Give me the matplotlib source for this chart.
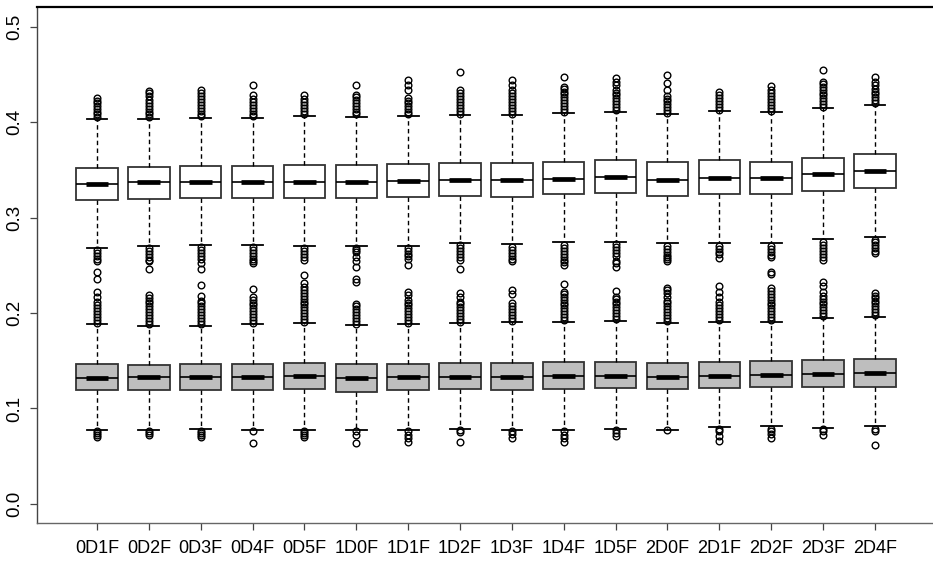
import matplotlib
matplotlib.use('Agg')
import matplotlib.pyplot as plt
import numpy as np

plt.rcParams['font.family'] = ['Liberation Sans', 'DejaVu Sans']

labels = ['0D1F', '0D2F', '0D3F', '0D4F', '0D5F', '1D0F', '1D1F', '1D2F',
          '1D3F', '1D4F', '1D5F', '2D0F', '2D1F', '2D2F', '2D3F', '2D4F']

# upper (white) boxes
w_q1 = [.3183, .3194, .3201, .3201, .3201, .3201, .3212, .3228,
        .3218, .3243, .3253, .3228, .3243, .3243, .3277, .3306]
w_med = [.3354, .3369, .3369, .3372, .3375, .3369, .3385, .3393,
         .3393, .3403, .3421, .3393, .3417, .3411, .3455, .3487]
w_q3 = [.3515, .3532, .3542, .3542, .3550, .3550, .3560, .3568,
        .3568, .3578, .3599, .3578, .3599, .3584, .3626, .3662]
w_lo = [.2684, .2702, .2712, .2712, .2702, .2702, .2702, .2736,
        .2719, .2740, .2747, .2730, .2730, .2730, .2772, .2793]
w_hi = [.4031, .4028, .4039, .4039, .4066, .4055, .4063, .4073,
        .4073, .4091, .4108, .4081, .4115, .4102, .4143, .4178]
# outliers, in thousandths
w_fl_hi = [
    [405, 408, 411, 414, 417, 420, 422, 425],
    [405, 408, 411, 414, 417, 420, 423, 427, 430, 433],
    [406, 409, 412, 415, 418, 421, 424, 427, 430, 434],
    [406, 409, 412, 415, 418, 421, 424, 428, 439],
    [409, 412, 415, 418, 421, 424, 428],
    [408, 411, 414, 417, 420, 423, 426, 428, 439],
    [408, 411, 414, 417, 420, 422, 425, 434, 439, 444],
    [409, 412, 415, 418, 421, 424, 427, 430, 434, 453],
    [409, 412, 415, 418, 421, 424, 427, 430, 434, 439, 444],
    [411, 414, 417, 420, 423, 426, 429, 432, 435, 437, 447],
    [413, 416, 419, 422, 425, 428, 431, 434, 439, 442, 446],
    [410, 413, 416, 419, 422, 424, 427, 434, 441, 449],
    [413, 416, 419, 422, 425, 428, 432],
    [412, 415, 418, 421, 424, 427, 430, 434, 438],
    [416, 419, 422, 425, 428, 431, 434, 437, 440, 442, 455],
    [420, 423, 426, 429, 432, 435, 439, 442, 447],
]
w_fl_lo = [
    [266, 263, 260, 257, 254, 243, 236],
    [268, 265, 262, 259, 256, 254, 246],
    [269, 266, 263, 260, 257, 252, 246],
    [269, 266, 263, 260, 257, 255, 252],
    [268, 265, 262, 259, 256],
    [268, 266, 264, 259, 254, 248, 236, 232],
    [268, 265, 262, 260, 257, 250],
    [271, 268, 265, 262, 259, 256, 246],
    [269, 266, 263, 260, 257, 255],
    [271, 268, 265, 262, 259, 256, 253, 250],
    [272, 269, 266, 263, 260, 255, 252, 248],
    [270, 267, 264, 261, 259, 257, 254],
    [270, 267, 264, 262, 258],
    [270, 267, 264, 261, 259],
    [274, 271, 268, 265, 262, 259, 256],
    [277, 274, 271, 268, 265, 263],
]

# lower (grey) boxes
g_q1 = [.1194, .1194, .1194, .1194, .1201, .1176, .1191, .1201,
        .1191, .1201, .1212, .1201, .1212, .1222, .1222, .1228]
g_med = [.1323, .1327, .1327, .1327, .1337, .1323, .1330, .1333,
         .1333, .1337, .1343, .1333, .1343, .1351, .1361, .1372]
g_q3 = [.1469, .1459, .1469, .1469, .1480, .1469, .1469, .1480,
        .1480, .1490, .1490, .1480, .1490, .1501, .1508, .1518]
g_lo = [.0775, .0775, .0785, .0775, .0775, .0775, .0775, .0785,
        .0775, .0775, .0785, .0775, .0809, .0820, .0799, .0820]
g_hi = [.1882, .1867, .1867, .1882, .1892, .1874, .1885, .1892,
        .1903, .1909, .1916, .1898, .1909, .1909, .1945, .1955]
g_fl_hi = [
    [190, 193, 196, 199, 202, 205, 208, 212, 217, 222],
    [189, 192, 195, 198, 201, 204, 207, 210, 213, 216, 219],
    [189, 192, 195, 198, 201, 204, 207, 210, 213, 218, 229],
    [190, 193, 196, 199, 202, 205, 208, 211, 214, 217, 225],
    [191, 194, 197, 200, 203, 206, 209, 212, 215, 218, 221, 224, 227, 231, 240],
    [189, 192, 195, 198, 201, 204, 207, 209],
    [190, 193, 196, 199, 202, 205, 208, 211, 214, 219, 222],
    [191, 194, 197, 200, 203, 206, 209, 212, 217, 221],
    [192, 195, 198, 201, 204, 207, 210, 220, 224],
    [193, 196, 199, 202, 205, 208, 211, 214, 217, 220, 222, 230],
    [194, 197, 200, 203, 206, 209, 212, 215, 217, 223],
    [192, 195, 198, 201, 204, 207, 210, 213, 217, 221, 224, 226],
    [193, 196, 199, 202, 205, 208, 212, 217, 222, 228],
    [193, 196, 199, 202, 205, 208, 211, 214, 217, 220, 223, 226, 241, 243],
    [197, 200, 203, 206, 209, 212, 215, 218, 222, 228, 233],
    [198, 201, 204, 207, 210, 213, 216, 218, 221],
]
g_fl_lo = [
    [76, 74, 72, 70],
    [76, 74, 72],
    [76, 74, 72, 70],
    [76, 64],
    [76, 74, 72, 70],
    [76, 72, 64],
    [76, 72, 69, 65],
    [77, 75, 65],
    [76, 73, 69],
    [76, 72, 69, 65],
    [77, 74, 71],
    [77],
    [78, 76, 71, 66],
    [79, 76, 73, 69],
    [78, 76, 72],
    [79, 76, 62],
]


def make_stats(q1, med, q3, lo, hi, fl_lo, fl_hi):
    out = []
    for i in range(len(med)):
        out.append(dict(q1=q1[i], med=med[i], q3=q3[i], whislo=lo[i], whishi=hi[i],
                        fliers=np.array(fl_lo[i] + fl_hi[i]) / 1000.0))
    return out


pos = np.arange(1, len(labels) + 1)

fig = plt.figure(figsize=(9.33, 5.62), dpi=100)
ax = fig.add_axes([37 / 933, 39 / 562, 896 / 933, 516 / 562])

common = dict(positions=pos, widths=0.8, capwidths=0.4, patch_artist=True,
              whiskerprops=dict(color='black', lw=1.0, ls=(0, (3.2, 2.4))),
              capprops=dict(color='black', lw=1.3),
              medianprops=dict(color='black', lw=1.2),
              flierprops=dict(marker='o', markerfacecolor='none', markeredgecolor='black',
                              markersize=4.8, markeredgewidth=1.0))

for st, fc, med in [(make_stats(w_q1, w_med, w_q3, w_lo, w_hi, w_fl_lo, w_fl_hi), 'white', w_med),
                    (make_stats(g_q1, g_med, g_q3, g_lo, g_hi, g_fl_lo, g_fl_hi), '#bebebe', g_med)]:
    ax.bxp(st, boxprops=dict(facecolor=fc, edgecolor='#333333', lw=1.3), **common)
    ax.hlines(med, pos - 0.22, pos + 0.22, color='black', lw=3.4, zorder=4)

ax.set_xlim(-0.157, 17.12)
ax.set_ylim(-0.02, 0.5206)
ax.set_xticks(pos)
ax.set_xticklabels(labels, fontsize=13)
ax.set_yticks([0.0, 0.1, 0.2, 0.3, 0.4, 0.5])
ax.set_yticklabels(['0.0', '0.1', '0.2', '0.3', '0.4', '0.5'], fontsize=13.5,
                   rotation=90, va='center')
ax.tick_params(axis='both', length=5, width=0.9, color='#444444', pad=7)
ax.tick_params(axis='y', pad=5)

ax.spines['right'].set_visible(False)
ax.spines['top'].set_color('black')
ax.spines['top'].set_linewidth(1.6)
ax.spines['left'].set_color('#444444')
ax.spines['bottom'].set_color('#666666')
ax.spines['left'].set_linewidth(1.0)
ax.spines['bottom'].set_linewidth(1.0)

fig.savefig('out.png', dpi=100)
